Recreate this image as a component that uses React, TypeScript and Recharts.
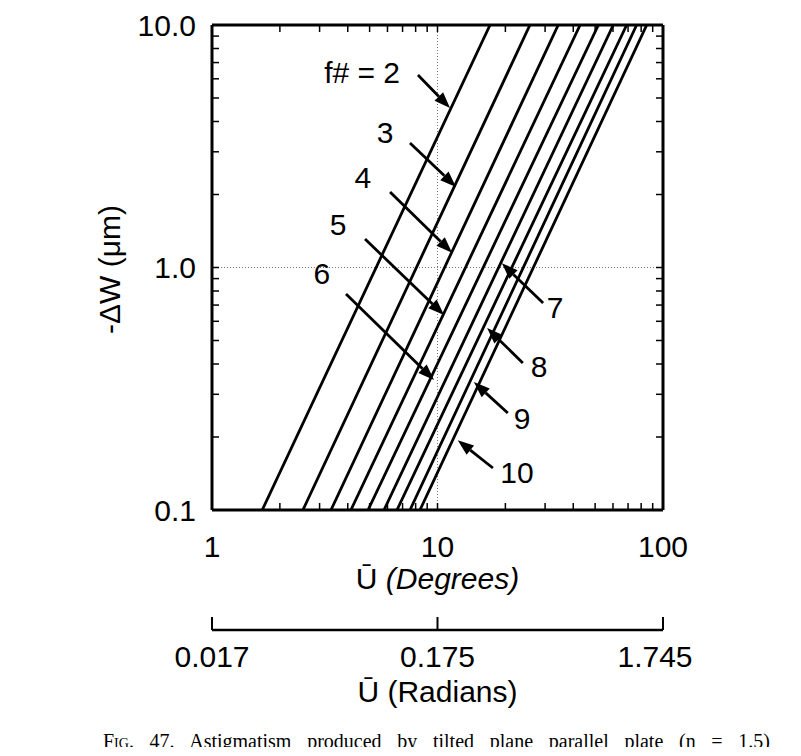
import React from 'react';
import { LineChart, Line, XAxis, YAxis, ReferenceLine, ReferenceDot, Label } from 'recharts';

// f-numbers of the plotted curves
const fNumbers = [2, 3, 4, 5, 6, 7, 8, 9, 10];
// tilt angle U (degrees) where each curve leaves the bottom (-dW = 0.1 um) and the top (-dW = 10 um)
const uAtBottom = [1.67, 2.53, 3.37, 4.13, 4.92, 5.79, 6.61, 7.55, 8.36];
const uAtTop = [17.1, 25.7, 34.3, 42.9, 51.7, 60.2, 69.0, 76.4, 84.7];
const wEnds = [0.1, 10];

const degTicks = [1, 10, 100];
const degMinor = [2, 3, 4, 5, 6, 7, 8, 9, 20, 30, 40, 50, 60, 70, 80, 90];
const radTickLabels = ['0.017', '0.175', '1.745'];
const wTicks = [0.1, 1, 10];
const wTickLabels = ['0.1', '1.0', '10.0'];
const wMinor = [0.2, 0.3, 0.4, 0.5, 0.6, 0.7, 0.8, 0.9, 2, 3, 4, 5, 6, 7, 8, 9];

// callouts: label text, label position, arrow tail and arrow tip (U in degrees, -dW in um)
const calloutText = ['f# = 2', '3', '4', '5', '6', '7', '8', '9', '10'];
const calloutLabelU = [4.63, 5.85, 4.67, 3.62, 3.07, 33.2, 28.2, 23.7, 22.5];
const calloutLabelW = [6.34, 3.62, 2.34, 1.5, 0.949, 0.687, 0.389, 0.239, 0.143];
const arrowTailU = [8.19, 7.55, 6.16, 4.77, 3.93, 29.4, 23.9, 20.5, 17.6];
const arrowTailW = [6.22, 3.26, 2.05, 1.31, 0.777, 0.714, 0.404, 0.251, 0.149];
const arrowTipU = [11.36, 12.08, 11.6, 10.69, 9.65, 19.3, 16.6, 14.5, 12.3];
const arrowTipW = [4.55, 2.15, 1.15, 0.637, 0.344, 1.04, 0.563, 0.337, 0.194];

const FONT = '"Liberation Sans", Arial, Helvetica, sans-serif';
const allUTicks = [...degTicks, ...degMinor].sort((a, b) => a - b);
const allWTicks = [...wTicks, ...wMinor].sort((a, b) => a - b);

const series = fNumbers.map((f, i) => ({
  f,
  data: [
    { u: uAtBottom[i], w: wEnds[0] },
    { u: uAtTop[i], w: wEnds[1] },
  ],
}));

const BottomTick = (p: any) => {
  const { x, y, payload } = p;
  const v = payload.value;
  const major = degTicks.includes(v);
  return (
    <g>
      <line x1={x} y1={y} x2={x} y2={y - 7} stroke="#000" strokeWidth={1.5} />
      {major && (
        <text x={x} y={y + 36} textAnchor="middle" dominantBaseline="central" fontFamily={FONT} fontSize={30} fill="#000">
          {v}
        </text>
      )}
    </g>
  );
};

const TopTick = (p: any) => (
  <line x1={p.x} y1={p.y} x2={p.x} y2={p.y + 7} stroke="#000" strokeWidth={1.5} />
);

const LeftTick = (p: any) => {
  const { x, y, payload } = p;
  const idx = wTicks.indexOf(payload.value);
  return (
    <g>
      <line x1={x} y1={y} x2={x + 7} y2={y} stroke="#000" strokeWidth={1.5} />
      {idx >= 0 && (
        <text x={x - 16} y={y} textAnchor="end" dominantBaseline="central" fontFamily={FONT} fontSize={30} fill="#000">
          {wTickLabels[idx]}
        </text>
      )}
    </g>
  );
};

const RightTick = (p: any) => (
  <line x1={p.x} y1={p.y} x2={p.x - 7} y2={p.y} stroke="#000" strokeWidth={1.5} />
);

const RadTick = (p: any) => {
  const { x, y, payload } = p;
  const idx = degTicks.indexOf(payload.value);
  const shift = idx === 2 ? -8 : 0;
  return (
    <g>
      <line x1={x} y1={y} x2={x} y2={y - 13} stroke="#000" strokeWidth={2} />
      <text x={x + shift} y={y + 26} textAnchor="middle" dominantBaseline="central" fontFamily={FONT} fontSize={30} fill="#000">
        {radTickLabels[idx]}
      </text>
    </g>
  );
};

const Arrow = (p: any) => {
  const { x1, y1, x2, y2 } = p;
  const ang = Math.atan2(y2 - y1, x2 - x1);
  const len = 16;
  const half = 6;
  const bx = x2 - len * Math.cos(ang);
  const by = y2 - len * Math.sin(ang);
  const nx = -Math.sin(ang) * half;
  const ny = Math.cos(ang) * half;
  return (
    <g>
      <line x1={x1} y1={y1} x2={bx} y2={by} stroke="#000" strokeWidth={2.8} />
      <polygon points={`${x2},${y2} ${bx + nx},${by + ny} ${bx - nx},${by - ny}`} fill="#000" />
    </g>
  );
};

const App = () => {
  return (
    <div style={{ position: 'relative', width: 784, height: 739 }}>
      <LineChart width={784} height={739} margin={{ top: 16, right: 128, left: 0, bottom: 22 }}>
        <XAxis
          xAxisId="deg"
          dataKey="u"
          type="number"
          scale="log"
          domain={[1, 100]}
          allowDataOverflow
          ticks={allUTicks}
          interval={0}
          height={120}
          tickSize={0}
          tickMargin={0}
          tick={BottomTick}
          axisLine={{ stroke: '#000', strokeWidth: 3 }}
        >
          <Label
            content={(lp: any) => {
              const vb = lp.viewBox;
              return (
                <text x={vb.x + vb.width / 2} y={vb.y + 68} textAnchor="middle" dominantBaseline="central" fontFamily={FONT} fontSize={30} fill="#000">
                  Ū <tspan fontStyle="italic">(Degrees)</tspan>
                </text>
              );
            }}
          />
        </XAxis>
        <XAxis
          xAxisId="rad"
          dataKey="u"
          type="number"
          scale="log"
          domain={[1, 100]}
          allowDataOverflow
          ticks={degTicks}
          interval={0}
          height={95}
          tickSize={0}
          tickMargin={0}
          tick={RadTick}
          axisLine={{ stroke: '#000', strokeWidth: 2.5 }}
        >
          <Label
            content={(lp: any) => {
              const vb = lp.viewBox;
              return (
                <text x={vb.x + vb.width / 2} y={vb.y + 61} textAnchor="middle" dominantBaseline="central" fontFamily={FONT} fontSize={30} fill="#000">
                  Ū (Radians)
                </text>
              );
            }}
          />
        </XAxis>
        <XAxis
          xAxisId="top"
          dataKey="u"
          orientation="top"
          type="number"
          scale="log"
          domain={[1, 100]}
          allowDataOverflow
          ticks={allUTicks}
          interval={0}
          height={1}
          tickSize={0}
          tickMargin={0}
          tick={TopTick}
          axisLine={{ stroke: '#000', strokeWidth: 3 }}
        />
        <YAxis
          yAxisId="w"
          type="number"
          scale="log"
          domain={[0.1, 10]}
          allowDataOverflow
          ticks={allWTicks}
          interval={0}
          width={204}
          tickSize={0}
          tickMargin={0}
          tick={LeftTick}
          axisLine={{ stroke: '#000', strokeWidth: 3 }}
        >
          <Label
            content={(lp: any) => {
              const vb = lp.viewBox;
              const cx = vb.x + 101;
              const cy = vb.y + vb.height / 2 + 2;
              return (
                <text x={cx} y={cy} transform={`rotate(-90 ${cx} ${cy})`} textAnchor="middle" dominantBaseline="central" fontFamily={FONT} fontSize={30} fill="#000">
                  -ΔW (μm)
                </text>
              );
            }}
          />
        </YAxis>
        <YAxis
          yAxisId="right"
          orientation="right"
          type="number"
          scale="log"
          domain={[0.1, 10]}
          allowDataOverflow
          ticks={allWTicks}
          interval={0}
          width={1}
          tickSize={0}
          tickMargin={0}
          tick={RightTick}
          axisLine={{ stroke: '#000', strokeWidth: 3 }}
        />
        <ReferenceLine xAxisId="deg" yAxisId="w" x={10} stroke="#777" strokeDasharray="1 2" strokeWidth={1} />
        <ReferenceLine xAxisId="deg" yAxisId="w" y={1} stroke="#777" strokeDasharray="1 2" strokeWidth={1} />
        {series.map((s) => (
          <Line
            key={s.f}
            xAxisId="deg"
            yAxisId="w"
            data={s.data}
            dataKey="w"
            type="linear"
            stroke="#000"
            strokeWidth={2.8}
            dot={false}
            activeDot={false}
            isAnimationActive={false}
          />
        ))}
        {/* hidden copies so the secondary axes (radians, top, right) get a domain and ticks */}
        <Line
          xAxisId="rad"
          yAxisId="right"
          data={series[0].data}
          dataKey="w"
          stroke="none"
          dot={false}
          activeDot={false}
          isAnimationActive={false}
        />
        <Line
          xAxisId="top"
          yAxisId="right"
          data={series[0].data}
          dataKey="w"
          stroke="none"
          dot={false}
          activeDot={false}
          isAnimationActive={false}
        />
        {calloutText.map((t, i) => (
          <ReferenceLine
            key={`arrow-${i}`}
            xAxisId="deg"
            yAxisId="w"
            segment={[
              { x: arrowTailU[i], y: arrowTailW[i] },
              { x: arrowTipU[i], y: arrowTipW[i] },
            ]}
            shape={Arrow}
          />
        ))}
        {calloutText.map((t, i) => (
          <ReferenceDot
            key={`label-${i}`}
            xAxisId="deg"
            yAxisId="w"
            x={calloutLabelU[i]}
            y={calloutLabelW[i]}
            r={0}
            shape={(p: any) => (
              <text x={p.cx} y={p.cy} textAnchor="middle" dominantBaseline="central" fontFamily={FONT} fontSize={30} fill="#000">
                {t}
              </text>
            )}
          />
        ))}
      </LineChart>
      <div
        style={{
          position: 'absolute',
          left: 95,
          top: 722,
          width: 667,
          fontFamily: '"Liberation Serif", "Times New Roman", serif',
          fontSize: 20,
          lineHeight: '22px',
          textAlign: 'justify',
          textAlignLast: 'justify',
          whiteSpace: 'nowrap',
          color: '#000',
        }}
      >
        <span style={{ fontVariant: 'small-caps' }}>Fig</span>. 47. Astigmatism produced by tilted plane parallel plate (n = 1.5)
      </div>
    </div>
  );
};

export default App;
